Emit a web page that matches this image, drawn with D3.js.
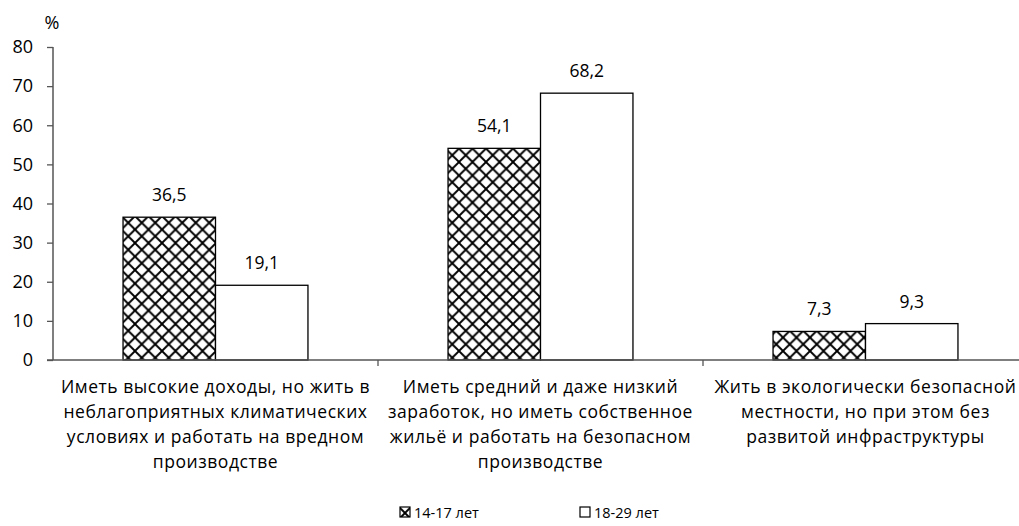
<!DOCTYPE html>
<html><head><meta charset="utf-8">
<script src="https://cdn.jsdelivr.net/npm/d3@7"></script>
<style>body{margin:0;background:#fff}svg{display:block}text{font-family:"Open Sans",sans-serif;fill:#000}</style>
</head><body><svg id="c" width="1019" height="526"></svg>
<script>
const categories = [
  ["Иметь высокие доходы, но жить в","неблагоприятных климатических","условиях и работать на вредном","производстве"],
  ["Иметь средний и даже низкий","заработок, но иметь собственное","жильё и работать на безопасном","производстве"],
  ["Жить в экологически безопасной","местности, но при этом без","развитой инфраструктуры"]
];
const seriesNames = ["14-17 лет","18-29 лет"];
const values1417 = [36.5, 54.1, 7.3];
const values1829 = [19.1, 68.2, 9.3];
const yTicks = [0,10,20,30,40,50,60,70,80];

const FONT = "'Open Sans',sans-serif";
const svg = d3.select("#c");
const defs = svg.append("defs");
const P = 13.5;
const pat = defs.append("pattern").attr("id","hatch").attr("patternUnits","userSpaceOnUse")
  .attr("width",P).attr("height",P);
pat.append("rect").attr("width",P).attr("height",P).attr("fill","#fff");
pat.append("path").attr("d",`M-1,-1 L${P+1},${P+1} M${P+1},-1 L-1,${P+1}`)
  .attr("stroke","#000").attr("stroke-width",1.9);

const x0 = 53, yTop = 47, yBot = 360;
const x = d3.scaleBand().domain(d3.range(categories.length)).range([x0, x0+325*3]).paddingInner(0).paddingOuter(0);
const xs = d3.scaleBand().domain([0,1]).range([0, x.bandwidth()]).paddingOuter(0.7575).paddingInner(0);
const y = d3.scaleLinear().domain([0,80]).range([yBot, yTop]);

// y axis
const ya = svg.append("g").attr("transform",`translate(${x0},0)`)
  .call(d3.axisLeft(y).tickValues(yTicks).tickSize(6).tickPadding(14).tickFormat(d3.format("d")));
ya.select(".domain").attr("stroke","#555").attr("stroke-width",1.5).attr("d",`M0,${yTop}H0V${yBot}`);
ya.selectAll(".tick line").attr("stroke","#555").attr("stroke-width",1.3);
ya.selectAll(".tick text").attr("font-size",18).style("font-family",FONT).attr("fill","#000");
svg.append("text").attr("x",52).attr("y",29).attr("text-anchor","middle").attr("font-size",18).text("%");

// bars
const data = categories.map((c,i)=>[values1417[i], values1829[i]]);
const g = svg.append("g");
data.forEach((vals,i)=>{
  vals.forEach((v,j)=>{
    const bx = x(i)+xs(j);
    g.append("rect").attr("x",bx).attr("y",y(v)).attr("width",xs.bandwidth()).attr("height",y(0)-y(v))
      .attr("fill", j===0 ? "url(#hatch)" : "#fff").attr("stroke","#000").attr("stroke-width",1.3);
    g.append("text").attr("x",bx+xs.bandwidth()/2).attr("y",y(v)-16).attr("text-anchor","middle")
      .attr("font-size",17.5).text(d3.format(".1f")(v).replace(".",","));
  });
});

// x axis
const xa = svg.append("g").attr("transform",`translate(0,${yBot})`);
xa.append("line").attr("x1",x0-6).attr("x2",1019).attr("y1",0).attr("y2",0).attr("stroke","#555").attr("stroke-width",1.5);
[1,2].forEach(i=>xa.append("line").attr("x1",x(i)).attr("x2",x(i)).attr("y1",0).attr("y2",6).attr("stroke","#555").attr("stroke-width",1.3));
categories.forEach((lines,i)=>{
  const t = xa.append("text").attr("text-anchor","middle").attr("font-size",17.5).attr("letter-spacing","0.55px");
  lines.forEach((l,k)=>t.append("tspan").attr("x",x(i)+x.bandwidth()/2).attr("y",33+k*25).text(l));
});

// legend
const legX = [400, 580];
seriesNames.forEach((n,j)=>{
  svg.append("rect").attr("x",legX[j]).attr("y",507).attr("width",10).attr("height",10)
    .attr("fill", j===0 ? "url(#hatch)" : "#fff").attr("stroke","#000").attr("stroke-width",1.2);
  svg.append("text").attr("x",legX[j]+14).attr("y",518).attr("font-size",14.5).text(n);
});
</script></body></html>
